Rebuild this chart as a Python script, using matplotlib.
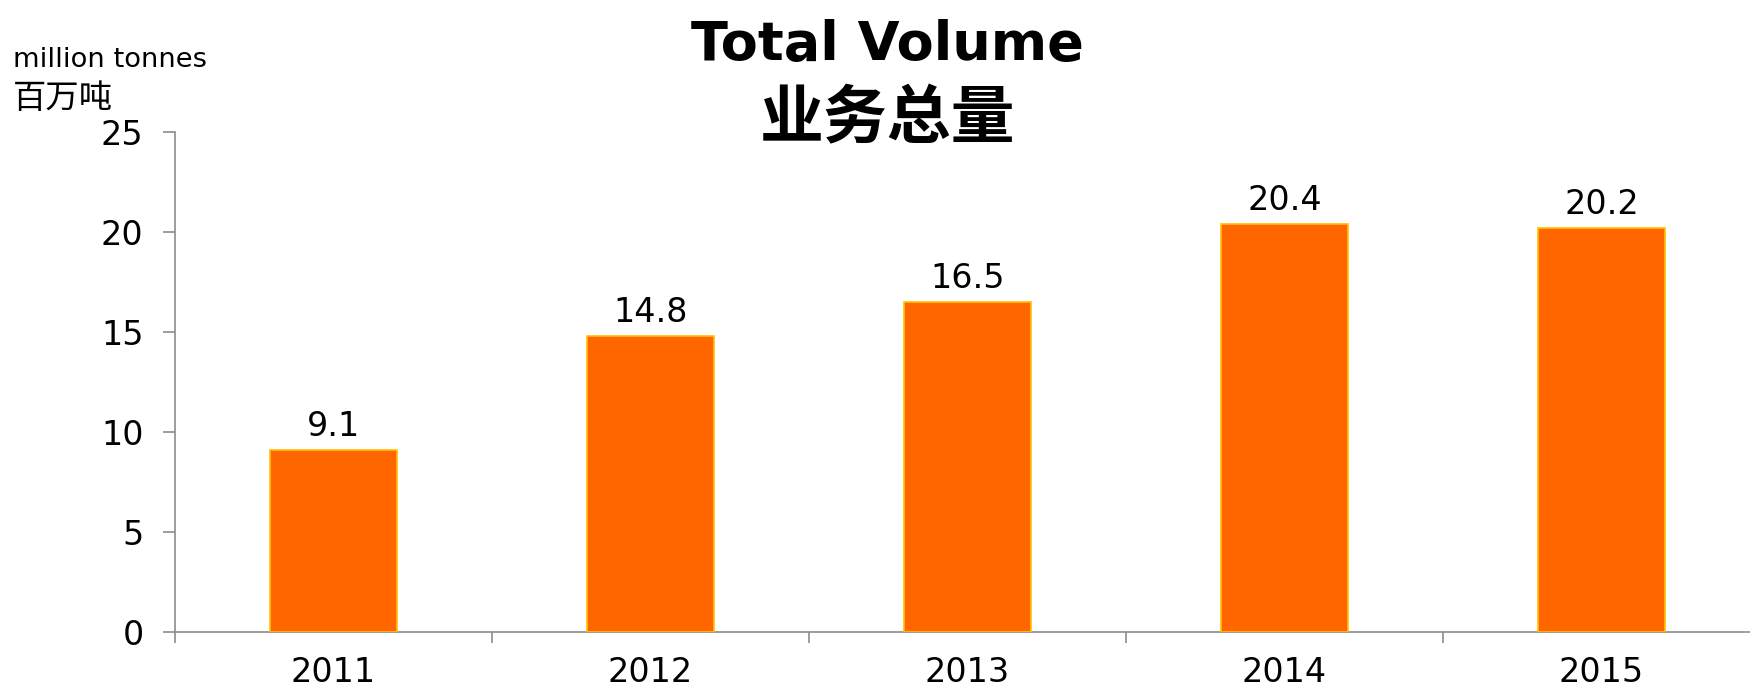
import matplotlib
matplotlib.use("Agg")
import matplotlib.pyplot as plt
from matplotlib.ticker import FixedLocator

years = ["2011", "2012", "2013", "2014", "2015"]
volumes = [9.1, 14.8, 16.5, 20.4, 20.2]
value_labels = ["9.1", "14.8", "16.5", "20.4", "20.2"]
y_ticks = [0, 5, 10, 15, 20, 25]

FAM = ["DejaVu Sans", "Noto Sans CJK SC"]
plt.rcParams["font.family"] = FAM

W, H = 1750, 688
fig = plt.figure(figsize=(W / 100, H / 100), dpi=100)
ax = fig.add_axes([175 / W, 1 - 632 / H, (1760 - 175) / W, 500 / H])

x = list(range(len(years)))
bars = ax.bar(x, volumes, width=0.4, color="#FF6600", edgecolor="#FFC000", linewidth=1.2, zorder=3)

for xi, v, lab in zip(x, volumes, value_labels):
    ax.annotate(lab, (xi, v), xytext=(0, 10), textcoords="offset points",
                ha="center", va="baseline", fontsize=24, color="black")

ax.set_xlim(-0.5, len(years) - 0.5)
ax.set_ylim(0, 25)
ax.set_yticks(y_ticks)
ax.set_yticklabels([str(t) for t in y_ticks])
ax.set_xticks(x)
ax.set_xticklabels(years)
ax.xaxis.set_minor_locator(FixedLocator([i - 0.5 for i in range(len(years) + 1)]))

spine_col = "#8c8c8c"
for s in ["top", "right"]:
    ax.spines[s].set_visible(False)
for s in ["left", "bottom"]:
    ax.spines[s].set_color(spine_col)
    ax.spines[s].set_linewidth(1.2)

ax.tick_params(axis="y", length=8.6, width=1.2, color=spine_col, pad=14,
               labelsize=24, labelcolor="black")
ax.tick_params(axis="x", which="major", length=0, pad=17.5, labelsize=24, labelcolor="black")
ax.tick_params(axis="x", which="minor", length=8, width=1.2, color=spine_col)

fig.text(887 / W, 1 - 60 / H, "Total Volume", ha="center", va="baseline",
         fontsize=39, fontweight="bold", family=FAM)
fig.text(887 / W, 1 - 138 / H, "业务总量", ha="center", va="baseline",
         fontsize=46, fontweight="bold", family=["Noto Sans CJK SC", "DejaVu Sans"])
fig.text(13 / W, 1 - 67 / H, "million tonnes", ha="left", va="baseline",
         fontsize=19.7, family=FAM)
fig.text(13 / W, 1 - 108 / H, "百万吨", ha="left", va="baseline",
         fontsize=24, family=["Noto Sans CJK SC", "DejaVu Sans"])

fig.savefig("out.png", dpi=100)
